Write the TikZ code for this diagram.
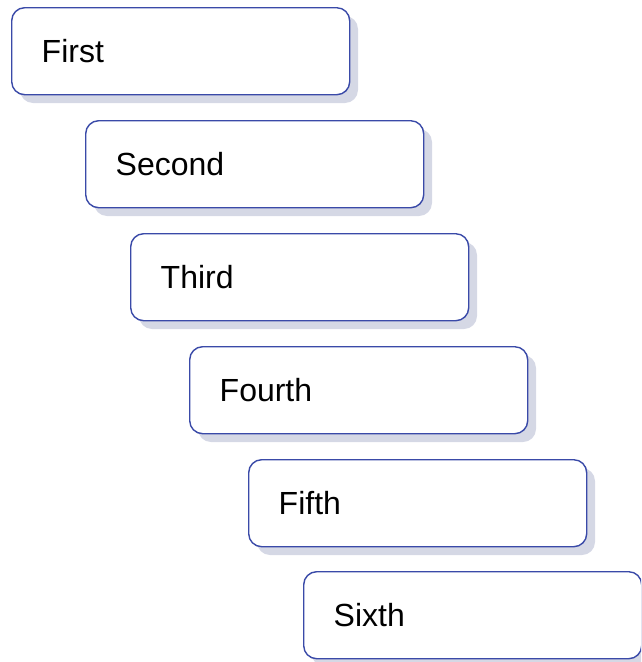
\documentclass[tikz,border=0pt]{standalone}
\usepackage{fontspec}
\setmainfont{Liberation Sans}
\definecolor{boxblue}{HTML}{3A4AA8}
\definecolor{shadowgray}{HTML}{D5D8E5}
\begin{document}
\begin{tikzpicture}[x=1pt,y=-1pt,
  stepbox/.style={draw=boxblue, line width=1.4pt, fill=white, rounded corners=13pt,
    minimum width=338pt, minimum height=87pt, inner ysep=0pt, inner xsep=30pt,
    text width=278pt, align=left, font=\fontsize{32}{36}\selectfont,
    anchor=north west},
  boxshadow/.style={fill=shadowgray, rounded corners=13pt}]
\useasboundingbox (0,0) rectangle (641,662);
\begin{scope}
\clip (0,0) rectangle (641,662);
\foreach \x/\y in {11/7, 85/120, 130/233, 189/346, 248/459, 303/571}{
  \fill[boxshadow] (\x+9,\y+9) rectangle (\x+347,\y+96);
}
\node[stepbox] (first)  at (11,7)   {First};
\node[stepbox] (second) at (85,120) {Second};
\node[stepbox] (third)  at (130,233) {Third};
\node[stepbox] (fourth) at (189,346) {Fourth};
\node[stepbox] (fifth)  at (248,459) {Fifth};
\node[stepbox] (sixth)  at (303,571) {Sixth};
\end{scope}
\end{tikzpicture}
\end{document}
